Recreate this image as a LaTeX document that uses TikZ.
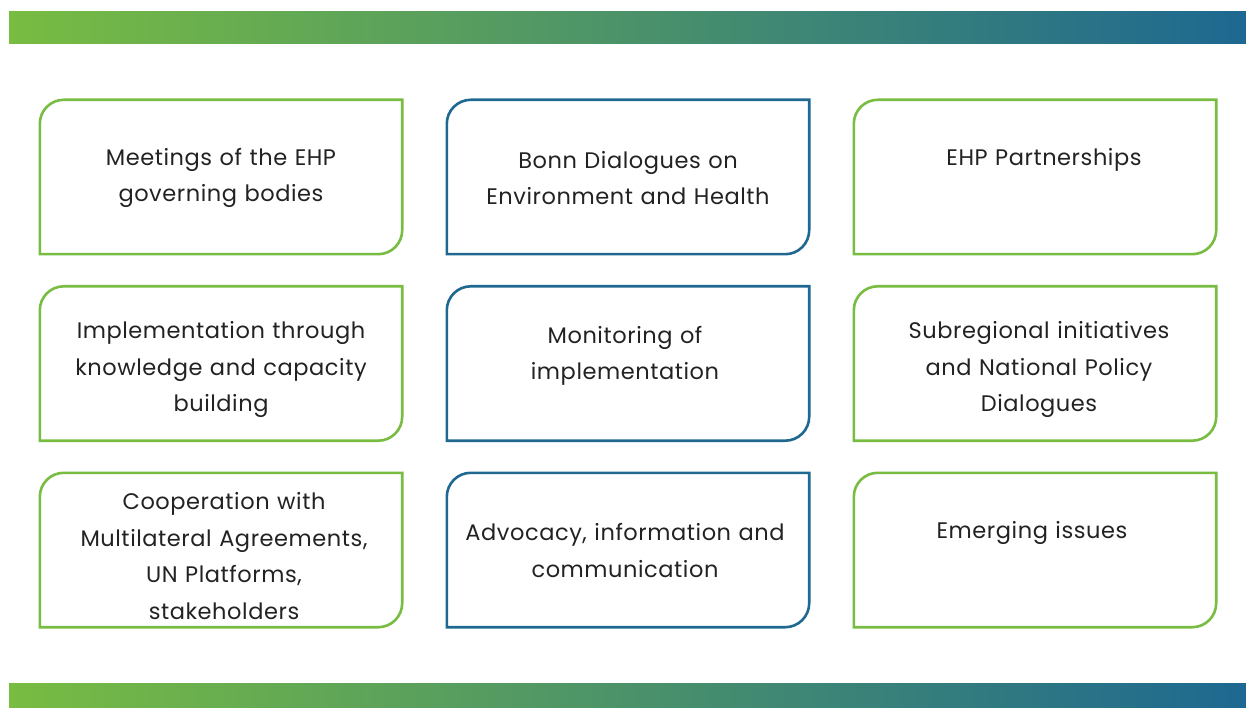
\documentclass[tikz,border=0pt]{standalone}
\usepackage{fontspec}
\setmainfont{Poppins}[LetterSpace=2.5]
\usepackage{tikz}

\definecolor{ehpgreen}{RGB}{120,188,66}
\definecolor{ehpblue}{RGB}{30,104,145}
\definecolor{ehptext}{RGB}{34,34,34}

\newcommand{\ehpframe}[2]{%
  \draw[#2] (#1.south west) -- ([yshift=-24pt]#1.north west)
    arc[start angle=180, end angle=90, radius=24pt] -- (#1.north east)
    -- ([yshift=24pt]#1.south east)
    arc[start angle=0, end angle=-90, radius=24pt] -- cycle;}

\begin{document}
\begin{tikzpicture}[x = 1pt, y = -1pt,
                      cell/.style = {minimum width = 362pt, minimum height = 154pt, inner sep = 0pt},
                      greenline/.style = {draw = ehpgreen, line width = 2.6pt},
                      blueline/.style = {draw = ehpblue, line width = 2.6pt},
                      label/.style = {text = ehptext, align = center, text width = 350pt, inner sep = 0pt,
                                      font = \fontsize{22.5}{36.5}\selectfont}]
    \useasboundingbox (0, 0) rectangle (1246, 708);

    % bars
    \shade [left color = ehpgreen, right color = ehpblue] (9, 12) rectangle (1246, 44);
    \shade [left color = ehpgreen, right color = ehpblue] (9, 683) rectangle (1246, 708);

    \node [cell] (c11) at (221, 177){};
    \node [cell] (c12) at (628, 177){};
    \node [cell] (c13) at (1035, 177){};
    \node [cell] (c21) at (221, 363.5){};
    \node [cell] (c22) at (628, 363.5){};
    \node [cell] (c23) at (1035, 363.5){};
    \node [cell] (c31) at (221, 550){};
    \node [cell] (c32) at (628, 550){};
    \node [cell] (c33) at (1035, 550){};

    \ehpframe{c11}{greenline}
    \ehpframe{c12}{blueline}
    \ehpframe{c13}{greenline}
    \ehpframe{c21}{greenline}
    \ehpframe{c22}{blueline}
    \ehpframe{c23}{greenline}
    \ehpframe{c31}{greenline}
    \ehpframe{c32}{blueline}
    \ehpframe{c33}{greenline}

    \node [label] (meet) at (221, 178){Meetings of the EHP\\governing bodies};
    \node [label] (bonn) at (628, 178){Bonn Dialogues on\\Environment and Health};
    \node [label] (part) at (1044, 160){EHP Partnerships};
    \node [label] (impl) at (221, 369.5){Implementation through\\knowledge and capacity\\building};
    \node [label] (moni) at (625, 356){Monitoring of\\implementation};
    \node [label] (subr) at (1039, 369.5){Subregional initiatives\\and National Policy\\Dialogues};
    \node [label] (coop) at (224, 556){Cooperation with\\Multilateral Agreements,\\UN Platforms,\\stakeholders};
    \node [label] (advo) at (625, 550.5){Advocacy, information and\\communication};
    \node [label] (emer) at (1032, 533){Emerging issues};
\end{tikzpicture}
\end{document}
